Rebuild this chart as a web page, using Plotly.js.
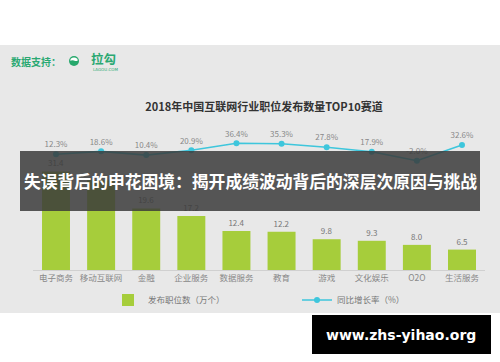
<!DOCTYPE html>
<html><head><meta charset="utf-8">
<script src="https://cdn.plot.ly/plotly-3.0.1.min.js"></script>
<style>html,body{margin:0;padding:0;background:#fff}#chart{width:500px;height:362px}</style>
</head><body><div id="chart"></div>
<script>
const categories = ['电子商务','移动互联网','金融','企业服务','数据服务','教育','游戏','文化娱乐','O2O','生活服务'];
const jobCounts = [31.4, 28.6, 19.6, 17.2, 12.4, 12.2, 9.8, 9.3, 8.0, 6.5];
const jobLabels = ['31.4', '', '19.6', '17.2', '12.4', '12.2', '9.8', '9.3', '8.0', '6.5'];
const growthRates = [12.3, 18.6, 10.4, 20.9, 36.4, 35.3, 27.8, 17.9, -2.0, 32.6];
const growthLabels = ['12.3%','18.6%','10.4%','20.9%','36.4%','35.3%','27.8%','17.9%','-2.0%','32.6%'];
const barName = '发布职位数（万个）';
const lineName = '同比增长率（%）';
const titleText = '2018年中国互联网行业职位发布数量TOP10赛道';
const bannerText = '失误背后的申花困境：揭开成绩波动背后的深层次原因与挑战';
const sourceText = '数据支持：';
const logoText = '拉勾';
const logoSub = 'LAGOU.COM';
const watermark = 'www.zhs-yihao.org';

const W = 500, H = 362;
const ML = 33, MR = 15, MT = 45, MB = 92;
const PW = W - ML - MR, PH = H - MT - MB;
const px = x => (x - ML) / PW;
const py = y => (H - MB - y) / PH;
const CJK = '"Noto Sans CJK SC", "Noto Sans", sans-serif';

const bars = {
  type: 'bar', name: barName, x: categories, y: jobCounts,
  marker: {color: '#a6cd3b'}, width: 0.62,
  text: jobLabels, textposition: 'outside', cliponaxis: false,
  textfont: {size: 8, color: '#777', family: CJK}, hoverinfo: 'none'
};
const line = {
  type: 'scatter', mode: 'lines+markers+text', name: lineName,
  x: categories, y: growthRates, yaxis: 'y2',
  line: {color: '#3ec6dc', width: 1.6}, marker: {color: '#3ec6dc', size: 6},
  text: growthLabels, textposition: 'top center', cliponaxis: false,
  textfont: {size: 8, color: '#888', family: CJK}, hoverinfo: 'none'
};

const layout = {
  width: W, height: H,
  margin: {l: ML, r: MR, t: MT, b: MB, pad: 0},
  paper_bgcolor: '#ffffff', plot_bgcolor: 'rgba(0,0,0,0)',
  font: {family: CJK, color: '#666'},
  title: {text: titleText, font: {size: 11, color: '#333', family: CJK, weight: 'bold'},
          xref: 'container', yref: 'container', x: 264 / W, y: 1 - 107 / H,
          xanchor: 'center', yanchor: 'middle'},
  showlegend: true,
  legend: {orientation: 'h', x: px(108), y: py(300), xanchor: 'left', yanchor: 'middle',
           entrywidth: 144, entrywidthmode: 'pixels',
           font: {size: 8.5, color: '#777', family: CJK}, bgcolor: 'rgba(0,0,0,0)'},
  bargap: 0.38,
  xaxis: {type: 'category', range: [-0.51, 9.51], showline: true, linecolor: '#d0d0d0', linewidth: 1,
          ticks: '', showgrid: false, zeroline: false,
          tickfont: {size: 8.5, color: '#888', family: CJK}, fixedrange: true},
  yaxis: {range: [0, PH / 3.14], visible: false, showgrid: false, zeroline: false},
  yaxis2: {overlaying: 'y', range: [-(270 - 159.8) / 0.453, (159.8 - 45) / 0.453],
           visible: false, showgrid: false, zeroline: false},
  shapes: [
    {type: 'rect', xref: 'paper', yref: 'paper', x0: px(0), x1: px(500), y0: py(313), y1: py(45),
     fillcolor: '#e8e8e8', line: {width: 0}, layer: 'below'},
    {type: 'circle', xref: 'paper', yref: 'paper', x0: px(69), x1: px(79), y0: py(66), y1: py(56),
     fillcolor: '#27a86c', line: {width: 0}, layer: 'above'},
    {type: 'path', xref: 'paper', yref: 'paper', xsizemode: 'pixel', ysizemode: 'pixel',
     xanchor: px(74), yanchor: py(61),
     path: 'M -3.8,0.2 Q -2,1.4 0,0.4 Q 2,-0.6 3.8,0.4 L 3.3,2.2 Q 0,4.6 -3.3,2.2 Z',
     fillcolor: '#ffffff', line: {width: 0}, layer: 'above'},
    {type: 'rect', xref: 'paper', yref: 'paper', x0: px(20), x1: px(480), y0: py(211), y1: py(151),
     fillcolor: 'rgba(59,59,59,0.85)', line: {width: 0}, layer: 'above'},
    {type: 'rect', xref: 'paper', yref: 'paper', x0: px(312), x1: px(491), y0: py(354), y1: py(315),
     fillcolor: '#000000', line: {width: 0}, layer: 'above'}
  ],
  annotations: [
    {text: sourceText, xref: 'paper', yref: 'paper', x: px(9), y: py(61), xanchor: 'left', yanchor: 'middle',
     showarrow: false, font: {size: 10, color: '#2aa872', family: CJK, weight: 'bold'}},
    {text: logoText, xref: 'paper', yref: 'paper', x: px(89), y: py(59), xanchor: 'left', yanchor: 'middle',
     showarrow: false, font: {size: 12.5, color: '#2aa872', family: CJK, weight: 'bold'}},
    {text: logoSub, xref: 'paper', yref: 'paper', x: px(91), y: py(69), xanchor: 'left', yanchor: 'middle',
     showarrow: false, font: {size: 4, color: '#2aa872', family: 'DejaVu Sans'}},
    {text: bannerText, xref: 'paper', yref: 'paper', x: px(250), y: py(181), xanchor: 'center', yanchor: 'middle',
     showarrow: false, font: {size: 16.8, color: '#ffffff', family: CJK, weight: 'bold'}},
    {text: watermark, xref: 'paper', yref: 'paper', x: px(401), y: py(335), xanchor: 'center', yanchor: 'middle',
     showarrow: false, font: {size: 14, color: '#ffffff', family: '"DejaVu Sans", sans-serif', weight: 'bold'}}
  ]
};

Plotly.newPlot('chart', [bars, line], layout, {displayModeBar: false, staticPlot: true});
</script>
</body></html>
